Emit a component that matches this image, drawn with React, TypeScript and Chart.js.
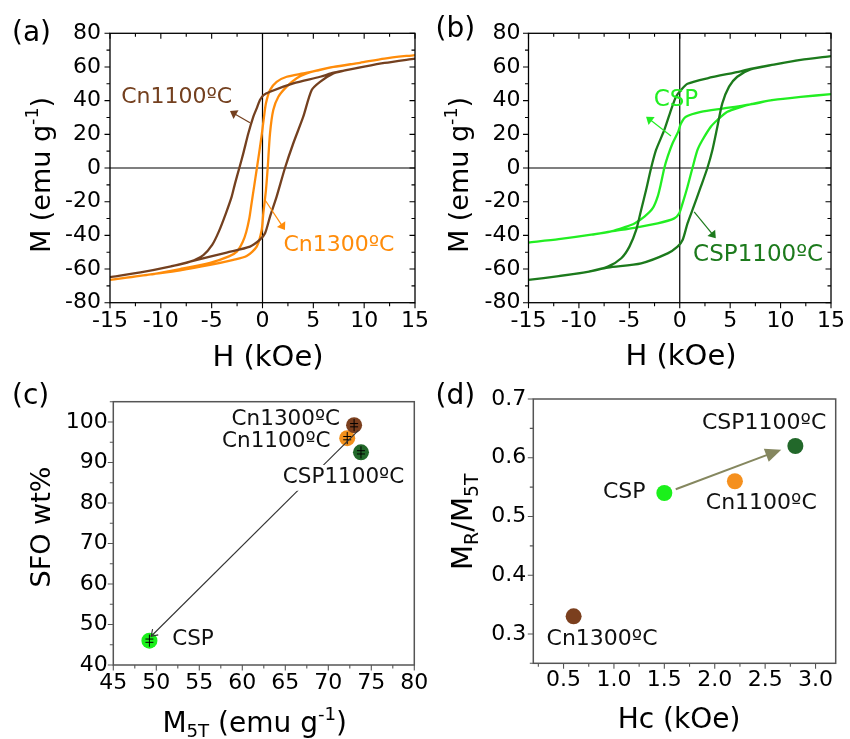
import React, { useEffect, useRef } from 'react';
import { Chart, registerables } from 'chart.js';
Chart.register(...registerables);

const FONT = "'DejaVu Sans', sans-serif";

const BROWN = '#74401f';
const ORANGE = '#ff8c0a';
const DKGREEN = '#1c7a1c';
const LTGREEN = '#22ee22';

// ---------- Panel (a): hysteresis loops ----------
const H_CN1100_DOWN = [15, 12, 10, 8, 7, 5.66, 3.03, 0.74, 0.1, -0.25, -0.57, -0.9, -1.39, -1.89, -2.28, -2.7, -3.03, -3.6, -4.3, -4.95, -5.82, -7.13, -9, -12, -15];
const M_CN1100_DOWN = [65, 62.4, 60.2, 57.8, 56.6, 54.2, 50.3, 45.3, 43.3, 40.4, 35.4, 30.5, 20.6, 8.7, 0, -9.1, -17, -26.9, -37.8, -45.7, -51.7, -55.6, -58.4, -62, -64.8];
const H_CN1100_UP = [-15, -12, -9, -7.13, -5.16, -3.52, -1.23, -0.25, 0.25, 0.74, 1.39, 2.21, 3.03, 4.01, 4.84, 5.66, 6.97, 8, 10, 12, 15];
const M_CN1100_UP = [-64.8, -62, -58.4, -55.6, -52.6, -50.2, -46.7, -42.6, -38.8, -28.9, -17, 0, 14.7, 30.5, 46.3, 51.2, 56.2, 57.8, 60.2, 62.4, 65];

const H_CN1300_DOWN = [15, 12, 9.59, 7, 4.01, 2.38, 1.39, 0.74, 0.34, 0.15, -0.1, -0.55, -0.8, -1.1, -1.3, -1.6, -1.95, -2.5, -3.3, -5.16, -8.1, -11, -15];
const M_CN1300_DOWN = [67.1, 65, 62.5, 60, 56.2, 54.2, 51.2, 46.3, 38.4, 30.5, 18.6, 0, -10, -22, -30, -38, -44, -49.5, -52.5, -56.3, -60, -63.2, -66.5];
const H_CN1300_UP = [-15, -11, -8.1, -5.16, -2.87, -1.56, -0.57, -0.08, 0.08, 0.34, 0.51, 0.74, 1.06, 1.56, 2.38, 3.36, 4.35, 5.5, 7, 9.59, 12, 15];
const M_CN1300_UP = [-66.5, -63.2, -60.8, -57.6, -54.6, -52.3, -46.7, -36.8, -26.9, -13.1, 0, 20.6, 34.4, 42.3, 48.3, 53.3, 56.2, 58, 60, 62.5, 65, 67.1];

// ---------- Panel (b): hysteresis loops ----------
const H_CSP1100_DOWN = [15, 12, 9.33, 7, 6.04, 2.75, 0.77, 0.12, -0.37, -0.87, -1.53, -2.35, -2.84, -3.34, -3.83, -4.32, -4.99, -5.8, -7.13, -9, -12, -15];
const M_CSP1100_DOWN = [66.5, 64.2, 61.4, 58.9, 57.4, 53.3, 50.0, 46.3, 42.3, 34.4, 22.6, 10.7, 0, -13.1, -24.9, -36.8, -46.7, -53.6, -58.6, -61.5, -64.2, -66.5];
const H_CSP1100_UP = [-15, -12, -9, -7.13, -3.83, -1.2, -0.22, 0.28, 0.77, 1.26, 2.09, 2.74, 3.24, 3.73, 4.22, 4.89, 5.7, 7.03, 9.33, 12, 15];
const M_CSP1100_UP = [-66.5, -64.2, -61.5, -59.2, -56.6, -50.7, -46.7, -42.8, -32.9, -24.9, -11.1, 0, 10.7, 24.5, 38.4, 48.3, 54.2, 58.6, 61.4, 64.2, 66.5];

const H_CSP_DOWN = [15, 12, 9.33, 7, 4.39, 2.09, 0.61, 0.12, -0.15, -0.71, -1.2, -1.53, -1.86, -2.19, -2.68, -3.5, -4.49, -5.5, -6.8, -8.77, -12, -15];
const M_CSP_DOWN = [43.9, 42.2, 40.4, 37.8, 35.4, 33.4, 30.5, 26.5, 21.6, 14.7, 6.7, 0, -9.1, -17, -23.9, -28.9, -32.9, -35.2, -37.6, -39.6, -42.3, -44.3];
const H_CSP_UP = [-15, -12, -8.77, -6.8, -4.49, -2.19, -0.54, -0.05, 0.28, 0.77, 1.26, 1.76, 2.25, 3.08, 3.73, 4.72, 6.04, 7, 9.33, 12, 15];
const M_CSP_UP = [-44.3, -42.3, -39.6, -37.6, -35.5, -32.9, -29.9, -26.9, -21, -11.1, 0, 10.7, 16.6, 24.5, 28.5, 33.4, 36.2, 37.8, 40.4, 42.2, 43.9];

// ---------- Panel (c) ----------
const C_SAMPLES = ['CSP', 'Cn1100ºC', 'Cn1300ºC', 'CSP1100ºC'];
const C_M5T = [49.2, 72.2, 73.0, 73.8];
const C_SFO = [46.0, 96.0, 99.2, 92.5];
const C_SFO_ERR = [1.5, 1.5, 1.5, 1.5];
const C_COLORS = ['#1bf01b', '#f2901c', '#7b3f1e', '#22682a'];

// ---------- Panel (d) ----------
const D_SAMPLES = ['Cn1300ºC', 'CSP', 'Cn1100ºC', 'CSP1100ºC'];
const D_HC = [0.6, 1.5, 2.2, 2.8];
const D_RATIO = [0.33, 0.54, 0.56, 0.62];
const D_COLORS = ['#7b3f1e', '#1bf01b', '#f5901e', '#22682a'];

// ---------- Tick values ----------
const HYST_X_TICKS = [-15, -12.5, -10, -7.5, -5, -2.5, 0, 2.5, 5, 7.5, 10, 12.5, 15];
const HYST_X_MAJOR = [-15, -10, -5, 0, 5, 10, 15];
const HYST_Y_TICKS = [-80, -70, -60, -50, -40, -30, -20, -10, 0, 10, 20, 30, 40, 50, 60, 70, 80];
const HYST_Y_MAJOR = [-80, -60, -40, -20, 0, 20, 40, 60, 80];
const C_X_TICKS = [45, 47.5, 50, 52.5, 55, 57.5, 60, 62.5, 65, 67.5, 70, 72.5, 75, 77.5, 80];
const C_X_MAJOR = [45, 50, 55, 60, 65, 70, 75, 80];
const C_Y_TICKS = [40, 45, 50, 55, 60, 65, 70, 75, 80, 85, 90, 95, 100, 105];
const C_Y_MAJOR = [40, 50, 60, 70, 80, 90, 100];
const D_X_TICKS = [0.25, 0.5, 0.75, 1.0, 1.25, 1.5, 1.75, 2.0, 2.25, 2.5, 2.75, 3.0];
const D_X_MAJOR = [0.5, 1.0, 1.5, 2.0, 2.5, 3.0];
const D_Y_TICKS = [0.25, 0.3, 0.35, 0.4, 0.45, 0.5, 0.55, 0.6, 0.65, 0.7];
const D_Y_MAJOR = [0.3, 0.4, 0.5, 0.6, 0.7];

type Run = { t: string; k?: 'sup' | 'sub' };
type Ann = { text: string; x: number; y: number; color: string; size: number; bg?: boolean };
type Arr = { x1: number; y1: number; x2: number; y2: number; color: string; width: number; head: number; headW: number; filled: boolean };

type Panel = {
  id: string;
  letter: string;
  letterPos: [number, number];
  padLeft: number;
  padBottom: number;
  area: { L: number; T: number; R: number; B: number };
  xMin: number; xMax: number; yMin: number; yMax: number;
  xTicks: number[]; xMajor: number[]; yTicks: number[]; yMajor: number[];
  fmt: (v: number) => string;
  xPad: number; yPad: number; tickSize: number;
  frameColor: string; frameWidth: number; mirror: boolean; zeroLines: boolean;
  xTitle: Run[]; xTitlePos: [number, number]; xTitleSize: number;
  yTitle: Run[]; yTitlePos: [number, number]; yTitleSize: number;
  labels: Ann[]; arrows: Arr[];
  errX?: number[]; errY?: number[]; errVal?: number[];
  datasets: any[];
};

const loop = (h1: number[], m1: number[], h2: number[], m2: number[]) =>
  h1.map((h, i) => ({ x: h, y: m1[i] })).concat(h2.map((h, i) => ({ x: h, y: m2[i] })));

const lineDs = (data: any[], color: string) => ({
  data, showLine: true, borderColor: color, backgroundColor: color, borderWidth: 2.3,
  pointRadius: 0, tension: 0.25, fill: false,
});

const PANELS: Panel[] = [
  {
    id: 'a', letter: '(a)', letterPos: [12, 33.5], padLeft: 0, padBottom: 369,
    area: { L: 110, T: 33.3, R: 415, B: 302.7 },
    xMin: -15, xMax: 15, yMin: -80, yMax: 80,
    xTicks: HYST_X_TICKS, xMajor: HYST_X_MAJOR, yTicks: HYST_Y_TICKS, yMajor: HYST_Y_MAJOR,
    fmt: (v) => String(v), xPad: 5, yPad: 9, tickSize: 22,
    frameColor: '#000', frameWidth: 1.3, mirror: true, zeroLines: true,
    xTitle: [{ t: 'H (kOe)' }], xTitlePos: [268, 365.5], xTitleSize: 29,
    yTitle: [{ t: 'M (emu g' }, { t: '-1', k: 'sup' }, { t: ')' }], yTitlePos: [49.5, 175], yTitleSize: 27,
    labels: [
      { text: 'Cn1100ºC', x: -8.44, y: 42.2, color: BROWN, size: 22 },
      { text: 'Cn1300ºC', x: 7.52, y: -45.7, color: ORANGE, size: 22 },
    ],
    arrows: [
      { x1: -1.23, y1: 26.9, x2: -3.2, y2: 33.8, color: BROWN, width: 1.2, head: 7, headW: 5, filled: true },
      { x1: 0.25, y1: -19, x2: 2.21, y2: -36.8, color: ORANGE, width: 1.2, head: 7, headW: 5, filled: true },
    ],
    datasets: [
      lineDs(loop(H_CN1100_DOWN, M_CN1100_DOWN, H_CN1100_UP, M_CN1100_UP), BROWN),
      lineDs(loop(H_CN1300_DOWN, M_CN1300_DOWN, H_CN1300_UP, M_CN1300_UP), ORANGE),
    ],
  },
  {
    id: 'b', letter: '(b)', letterPos: [435.5, 30], padLeft: 425, padBottom: 369,
    area: { L: 528.5, T: 33.3, R: 832.7, B: 302.7 },
    xMin: -15, xMax: 15, yMin: -80, yMax: 80,
    xTicks: HYST_X_TICKS, xMajor: HYST_X_MAJOR, yTicks: HYST_Y_TICKS, yMajor: HYST_Y_MAJOR,
    fmt: (v) => String(v), xPad: 5, yPad: 8, tickSize: 22,
    frameColor: '#000', frameWidth: 1.3, mirror: true, zeroLines: true,
    xTitle: [{ t: 'H (kOe)' }], xTitlePos: [681, 365], xTitleSize: 29,
    yTitle: [{ t: 'M (emu g' }, { t: '-1', k: 'sup' }, { t: ')' }], yTitlePos: [468.3, 175], yTitleSize: 27,
    labels: [
      { text: 'CSP', x: -0.38, y: 40.4, color: LTGREEN, size: 23 },
      { text: 'CSP1100ºC', x: 7.77, y: -51.7, color: DKGREEN, size: 23 },
    ],
    arrows: [
      { x1: -0.87, y1: 19, x2: -3.34, y2: 30.5, color: LTGREEN, width: 1.2, head: 7, headW: 5, filled: true },
      { x1: 1.43, y1: -26, x2: 3.57, y2: -41.7, color: DKGREEN, width: 1.2, head: 7, headW: 5, filled: true },
    ],
    datasets: [
      lineDs(loop(H_CSP1100_DOWN, M_CSP1100_DOWN, H_CSP1100_UP, M_CSP1100_UP), DKGREEN),
      lineDs(loop(H_CSP_DOWN, M_CSP_DOWN, H_CSP_UP, M_CSP_UP), LTGREEN),
    ],
  },
  {
    id: 'c', letter: '(c)', letterPos: [12, 397], padLeft: 0, padBottom: 0,
    area: { L: 113.3, T: 401.7, R: 414.3, B: 665 },
    xMin: 45, xMax: 80, yMin: 40, yMax: 105,
    xTicks: C_X_TICKS, xMajor: C_X_MAJOR, yTicks: C_Y_TICKS, yMajor: C_Y_MAJOR,
    fmt: (v) => String(v), xPad: 5, yPad: 5.5, tickSize: 22,
    frameColor: '#555', frameWidth: 1.5, mirror: false, zeroLines: false,
    xTitle: [{ t: 'M' }, { t: '5T', k: 'sub' }, { t: ' (emu g' }, { t: '-1', k: 'sup' }, { t: ')' }], xTitlePos: [254.7, 731.7], xTitleSize: 28,
    yTitle: [{ t: 'SFO wt%' }], yTitlePos: [50, 527], yTitleSize: 27,
    labels: [
      { text: 'Cn1300ºC', x: 65.06, y: 100.65, color: '#111', size: 21.5 },
      { text: 'Cn1100ºC', x: 63.95, y: 95.1, color: '#111', size: 21.5 },
      { text: 'CSP1100ºC', x: 71.77, y: 86.2, color: '#111', size: 21.5, bg: true },
      { text: 'CSP', x: 54.27, y: 46.2, color: '#111', size: 21.5 },
    ],
    arrows: [
      { x1: 73.5, y1: 97.9, x2: 49.4, y2: 47.1, color: '#333', width: 1.1, head: 6, headW: 4, filled: false },
    ],
    errX: C_M5T, errY: C_SFO, errVal: C_SFO_ERR,
    datasets: [
      {
        data: C_M5T.map((x, i) => ({ x, y: C_SFO[i] })),
        backgroundColor: C_COLORS, borderColor: C_COLORS, borderWidth: 0,
        pointRadius: 8, showLine: false,
      },
    ],
  },
  {
    id: 'd', letter: '(d)', letterPos: [435.5, 397], padLeft: 425, padBottom: 0,
    area: { L: 533.3, T: 399, R: 835.7, B: 663.3 },
    xMin: 0.2, xMax: 3.2, yMin: 0.25, yMax: 0.7,
    xTicks: D_X_TICKS, xMajor: D_X_MAJOR, yTicks: D_Y_TICKS, yMajor: D_Y_MAJOR,
    fmt: (v) => v.toFixed(1), xPad: 3.5, yPad: 7, tickSize: 22,
    frameColor: '#555', frameWidth: 1.5, mirror: false, zeroLines: false,
    xTitle: [{ t: 'Hc (kOe)' }], xTitlePos: [679, 728], xTitleSize: 28,
    yTitle: [{ t: 'M' }, { t: 'R', k: 'sub' }, { t: '/M' }, { t: '5T', k: 'sub' }], yTitlePos: [471.7, 521.7], yTitleSize: 29,
    labels: [
      { text: 'CSP1100ºC', x: 2.49, y: 0.6586, color: '#111', size: 22 },
      { text: 'CSP', x: 1.102, y: 0.5405, color: '#111', size: 22 },
      { text: 'Cn1100ºC', x: 2.462, y: 0.5224, color: '#111', size: 22 },
      { text: 'Cn1300ºC', x: 0.882, y: 0.2904, color: '#111', size: 22 },
    ],
    arrows: [
      { x1: 1.613, y1: 0.5463, x2: 2.66, y2: 0.6137, color: '#85875f', width: 2, head: 16, headW: 7, filled: true },
    ],
    datasets: [
      {
        data: D_HC.map((x, i) => ({ x, y: D_RATIO[i] })),
        backgroundColor: D_COLORS, borderColor: D_COLORS, borderWidth: 0,
        pointRadius: 8, showLine: false,
      },
    ],
  },
];

function drawRuns(ctx: CanvasRenderingContext2D, runs: Run[], size: number, ax: number, ay: number, rotate: boolean) {
  ctx.save();
  const small = size * 0.65;
  let w = 0;
  for (const r of runs) {
    ctx.font = `${r.k ? small : size}px ${FONT}`;
    w += ctx.measureText(r.t).width;
  }
  ctx.translate(ax, ay);
  if (rotate) ctx.rotate(-Math.PI / 2);
  ctx.fillStyle = '#000';
  ctx.textBaseline = 'alphabetic';
  ctx.textAlign = 'left';
  let x = -w / 2;
  for (const r of runs) {
    ctx.font = `${r.k ? small : size}px ${FONT}`;
    const dy = r.k === 'sup' ? -size * 0.42 : r.k === 'sub' ? size * 0.2 : 0;
    ctx.fillText(r.t, x, dy);
    x += ctx.measureText(r.t).width;
  }
  ctx.restore();
}

function drawArrow(ctx: CanvasRenderingContext2D, x1: number, y1: number, x2: number, y2: number, a: Arr) {
  const ang = Math.atan2(y2 - y1, x2 - x1);
  ctx.save();
  ctx.strokeStyle = a.color;
  ctx.fillStyle = a.color;
  ctx.lineWidth = a.width;
  const bx = x2 - Math.cos(ang) * a.head * (a.filled ? 0.8 : 0);
  const by = y2 - Math.sin(ang) * a.head * (a.filled ? 0.8 : 0);
  ctx.beginPath();
  ctx.moveTo(x1, y1);
  ctx.lineTo(bx, by);
  ctx.stroke();
  const lx = x2 - Math.cos(ang) * a.head + Math.sin(ang) * a.headW;
  const ly = y2 - Math.sin(ang) * a.head - Math.cos(ang) * a.headW;
  const rx = x2 - Math.cos(ang) * a.head - Math.sin(ang) * a.headW;
  const ry = y2 - Math.sin(ang) * a.head + Math.cos(ang) * a.headW;
  ctx.beginPath();
  if (a.filled) {
    ctx.moveTo(x2, y2);
    ctx.lineTo(lx, ly);
    ctx.lineTo(rx, ry);
    ctx.closePath();
    ctx.fill();
  } else {
    ctx.moveTo(lx, ly);
    ctx.lineTo(x2, y2);
    ctx.lineTo(rx, ry);
    ctx.stroke();
  }
  ctx.restore();
}

function makePlugin(p: Panel) {
  return {
    id: 'panel_' + p.id,
    beforeDatasetsDraw(chart: any) {
      if (!p.zeroLines) return;
      const { ctx, chartArea: a, scales } = chart;
      const x0 = scales.x.getPixelForValue(0);
      const y0 = scales.y.getPixelForValue(0);
      ctx.save();
      ctx.strokeStyle = '#000';
      ctx.lineWidth = 1.2;
      ctx.beginPath();
      ctx.moveTo(x0, a.top); ctx.lineTo(x0, a.bottom);
      ctx.moveTo(a.left, y0); ctx.lineTo(a.right, y0);
      ctx.stroke();
      ctx.restore();
    },
    afterDatasetsDraw(chart: any) {
      const { ctx, chartArea: a, scales } = chart;
      const sx = scales.x, sy = scales.y;
      if (p.errX && p.errY && p.errVal) {
        ctx.save();
        ctx.strokeStyle = '#000';
        ctx.lineWidth = 1;
        p.errX.forEach((xv, i) => {
          const px = sx.getPixelForValue(xv);
          const yv = p.errY![i];
          const e = p.errVal![i];
          const pt = sy.getPixelForValue(yv + e), pb = sy.getPixelForValue(yv - e);
          const c1 = sy.getPixelForValue(yv + e * 0.27), c2 = sy.getPixelForValue(yv - e * 0.27);
          ctx.beginPath();
          ctx.moveTo(px, pt); ctx.lineTo(px, pb);
          ctx.moveTo(px - 4, c1); ctx.lineTo(px + 4, c1);
          ctx.moveTo(px - 4, c2); ctx.lineTo(px + 4, c2);
          ctx.stroke();
        });
        ctx.restore();
      }
      ctx.save();
      ctx.strokeStyle = p.frameColor;
      ctx.lineWidth = p.frameWidth;
      ctx.strokeRect(a.left, a.top, a.right - a.left, a.bottom - a.top);
      ctx.lineWidth = 1.1;
      ctx.beginPath();
      for (const t of sx.ticks) {
        const px = sx.getPixelForValue(t.value);
        const len = t.label !== '' ? 5.5 : 3.5;
        ctx.moveTo(px, a.bottom); ctx.lineTo(px, a.bottom + len);
        if (p.mirror) { ctx.moveTo(px, a.top); ctx.lineTo(px, a.top + len); }
      }
      for (const t of sy.ticks) {
        const py = sy.getPixelForValue(t.value);
        const len = t.label !== '' ? 5.5 : 3.5;
        ctx.moveTo(a.left - len, py); ctx.lineTo(a.left, py);
        if (p.mirror) { ctx.moveTo(a.right - len, py); ctx.lineTo(a.right, py); }
      }
      ctx.stroke();
      ctx.restore();
    },
    afterDraw(chart: any) {
      const { ctx, scales } = chart;
      const sx = scales.x, sy = scales.y;
      for (const ar of p.arrows) {
        drawArrow(ctx, sx.getPixelForValue(ar.x1), sy.getPixelForValue(ar.y1), sx.getPixelForValue(ar.x2), sy.getPixelForValue(ar.y2), ar);
      }
      for (const l of p.labels) {
        const px = sx.getPixelForValue(l.x), py = sy.getPixelForValue(l.y);
        ctx.save();
        ctx.font = `${l.size}px ${FONT}`;
        ctx.textAlign = 'center';
        ctx.textBaseline = 'middle';
        if (l.bg) {
          const w = ctx.measureText(l.text).width;
          ctx.fillStyle = '#fff';
          ctx.fillRect(px - w / 2 - 2, py - l.size * 0.6, w + 4, l.size * 1.2);
        }
        ctx.fillStyle = l.color;
        ctx.fillText(l.text, px, py);
        ctx.restore();
      }
      drawRuns(ctx, p.xTitle, p.xTitleSize, p.xTitlePos[0], p.xTitlePos[1], false);
      drawRuns(ctx, p.yTitle, p.yTitleSize, p.yTitlePos[0], p.yTitlePos[1], true);
      ctx.save();
      ctx.font = `28px ${FONT}`;
      ctx.fillStyle = '#000';
      ctx.textAlign = 'left';
      ctx.textBaseline = 'middle';
      ctx.fillText(p.letter, p.letterPos[0], p.letterPos[1]);
      ctx.restore();
    },
  };
}

const W = 850, H = 739;

function isMajor(v: number, majors: number[]) {
  return majors.some((m) => Math.abs(m - v) < 1e-9);
}

function buildChart(canvas: HTMLCanvasElement, p: Panel) {
  const yw = p.area.L - p.padLeft;
  const xh = H - p.padBottom - p.area.B;
  return new Chart(canvas, {
    type: 'scatter',
    data: { datasets: p.datasets },
    options: {
      animation: false,
      responsive: false,
      events: [],
      layout: { padding: { left: p.padLeft, top: p.area.T, right: W - p.area.R, bottom: p.padBottom } },
      plugins: { legend: { display: false }, tooltip: { enabled: false } },
      scales: {
        x: {
          type: 'linear', min: p.xMin, max: p.xMax,
          afterBuildTicks: (s: any) => { s.ticks = p.xTicks.map((v) => ({ value: v })); },
          afterFit: (s: any) => { s.height = xh; },
          ticks: {
            autoSkip: false, maxRotation: 0, minRotation: 0, padding: p.xPad, color: '#000',
            font: { family: FONT, size: p.tickSize },
            callback: (v: any) => (isMajor(Number(v), p.xMajor) ? p.fmt(Number(v)) : ''),
          },
          grid: { display: false, drawTicks: false },
          border: { display: false },
        },
        y: {
          type: 'linear', min: p.yMin, max: p.yMax,
          afterBuildTicks: (s: any) => { s.ticks = p.yTicks.map((v) => ({ value: v })); },
          afterFit: (s: any) => { s.width = yw; },
          ticks: {
            autoSkip: false, padding: p.yPad, color: '#000',
            font: { family: FONT, size: p.tickSize },
            callback: (v: any) => (isMajor(Number(v), p.yMajor) ? p.fmt(Number(v)) : ''),
          },
          grid: { display: false, drawTicks: false },
          border: { display: false },
        },
      },
    } as any,
    plugins: [makePlugin(p)],
  });
}

export default function App() {
  const refs = useRef<(HTMLCanvasElement | null)[]>([]);
  useEffect(() => {
    const charts = PANELS.map((p, i) => buildChart(refs.current[i]!, p));
    return () => charts.forEach((c) => c.destroy());
  }, []);
  return (
    <div style={{ position: 'absolute', left: 0, top: 0, width: W, height: H, background: '#fff', overflow: 'hidden' }}>
      {PANELS.map((p, i) => (
        <canvas
          key={p.id}
          ref={(el) => { refs.current[i] = el; }}
          width={W}
          height={H}
          style={{ position: 'absolute', left: 0, top: 0, width: W, height: H }}
        />
      ))}
    </div>
  );
}
